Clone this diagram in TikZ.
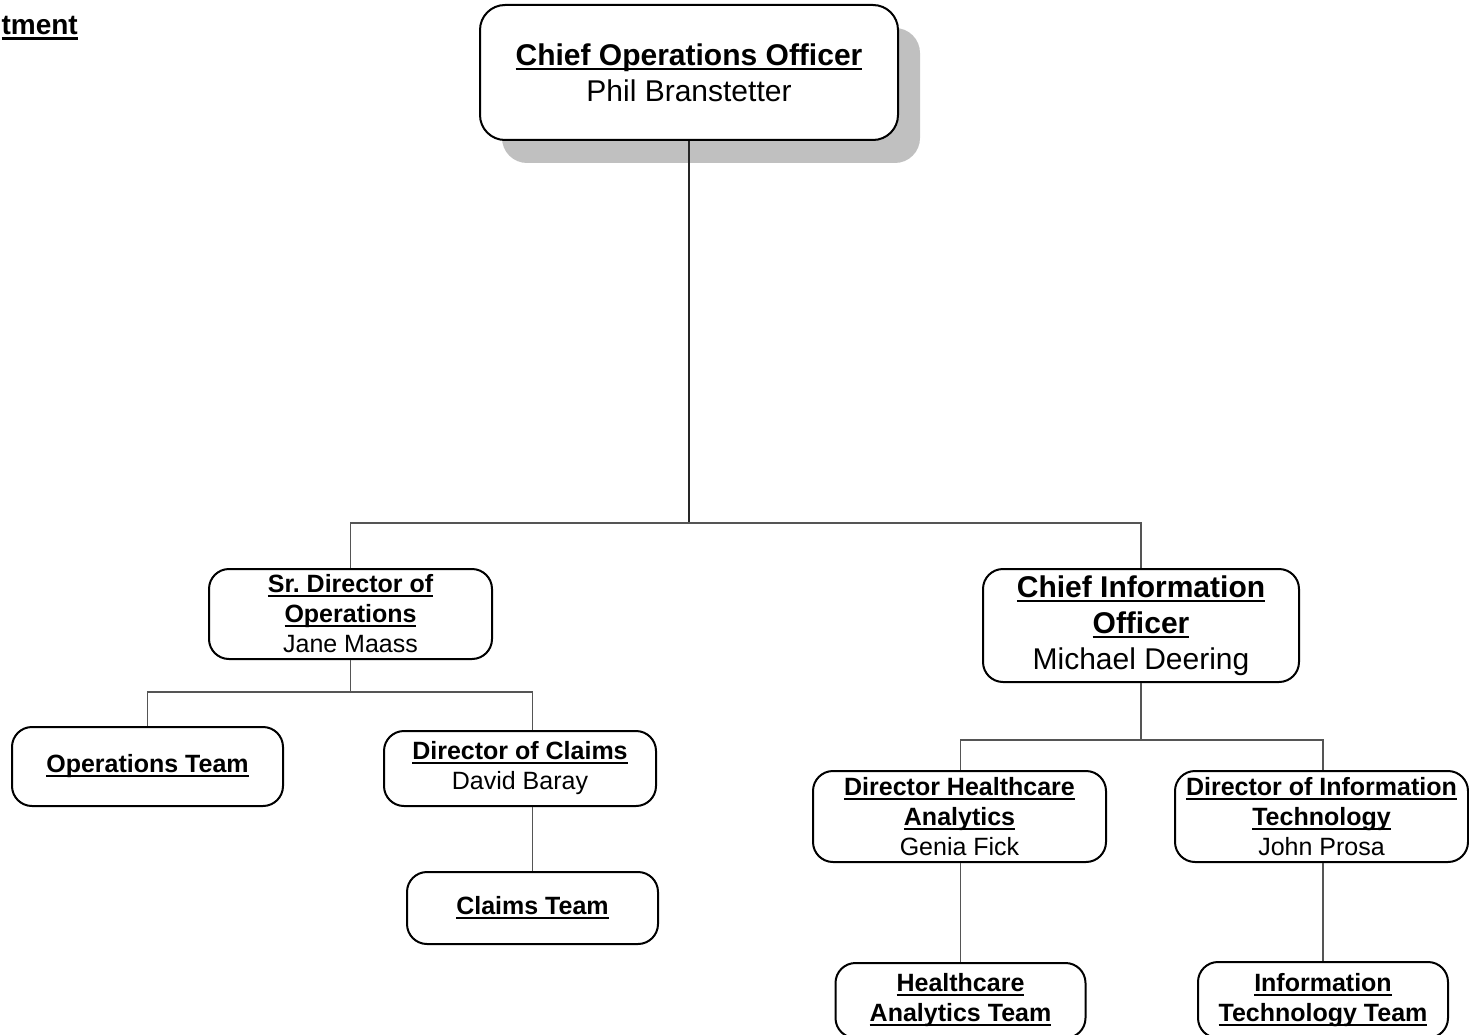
\documentclass[tikz,border=0pt]{standalone}
\usepackage{fontspec}
\setmainfont{Liberation Sans}
\usetikzlibrary{shadows}
\frenchspacing
\newcommand\myul[1]{\leavevmode\setbox0\hbox{#1}\rlap{\rule[-0.17em]{\wd0}{0.085em}}\box0}
\newcommand\bigfont{\fontsize{30}{36}\selectfont}
\newcommand\smallfont{\fontsize{25}{30}\selectfont}
\definecolor{conncol}{RGB}{85,85,85}
\definecolor{shadowcol}{RGB}{192,192,192}
\tikzset{
  orgbox/.style={draw=black, line width=2pt, fill=white, rounded corners=20pt,
    align=center, inner sep=0pt, font=\smallfont},
  bigbox/.style={orgbox, font=\bigfont},
  conn/.style={draw=conncol, line width=1.5pt},
}
\begin{document}
\begin{tikzpicture}[x=1pt,y=-1pt]
\useasboundingbox (0,0) rectangle (1469,1035);
\clip (0,0) rectangle (1469,1035);

% title fragment
\node[anchor=base east, inner sep=0pt, font=\fontsize{28}{32}\selectfont\bfseries] (title) at (78,35) {\myul{tment}};

% nodes
\node[bigbox, rounded corners=25pt, minimum width=418pt, minimum height=135pt,
  drop shadow={shadow xshift=22pt, shadow yshift=-23pt, fill=shadowcol, opacity=1}]
  (coo) at (689,72.5) {\textbf{\myul{Chief Operations Officer}}\\Phil Branstetter};

\node[orgbox, minimum width=283pt, minimum height=90pt] (sr) at (350.5,614)
  {\textbf{\myul{Sr. Director of}}\\\textbf{\myul{Operations}}\\Jane Maass};

\node[bigbox, minimum width=316pt, minimum height=113pt] (cio) at (1141,625.5)
  {\textbf{\myul{Chief Information}}\\\textbf{\myul{Officer}}\\Michael Deering};

\node[orgbox, minimum width=271pt, minimum height=79pt] (ops) at (147.5,766.5)
  {\textbf{\myul{Operations Team}}};

\node[orgbox, minimum width=272pt, minimum height=75pt] (dc) at (520,768.5)
  {\textbf{\myul{Director of Claims}}\\David Baray};

\node[orgbox, minimum width=251pt, minimum height=72pt] (cl) at (532.5,908)
  {\textbf{\myul{Claims Team}}};

\node[orgbox, minimum width=293pt, minimum height=91pt] (dh) at (959.5,816.5)
  {\textbf{\myul{Director Healthcare}}\\\textbf{\myul{Analytics}}\\Genia Fick};

\node[orgbox, minimum width=293pt, minimum height=91pt] (dit) at (1321.5,816.5)
  {\textbf{\myul{Director of Information}}\\\textbf{\myul{Technology}}\\John Prosa};

\node[orgbox, minimum width=250pt, minimum height=75pt] (hat) at (960.5,1000.5)
  {\textbf{\myul{Healthcare}}\\\textbf{\myul{Analytics Team}}};

\node[orgbox, minimum width=250pt, minimum height=76pt] (itt) at (1323,1000)
  {\textbf{\myul{Information}}\\\textbf{\myul{Technology Team}}};

% junctions
\coordinate (j1) at (689,523);
\coordinate (j2) at (350.5,692);
\coordinate (j3) at (1141,740);

% connectors
\draw[conn, draw=black!85] (coo.south) -- (j1);
\draw[conn] (sr.north) -- (sr.north |- j1) -- (cio.north |- j1) -- (cio.north);

\draw[conn] (sr.south) -- (j2);
\draw[conn] (ops.north) -- (ops.north |- j2) -- (cl.north |- j2) -- (cl.north |- dc.north);
\draw[conn] (cl.north |- dc.south) -- (cl.north);

\draw[conn] (cio.south) -- (j3);
\draw[conn] (hat.north |- dh.north) -- (hat.north |- j3) -- (itt.north |- j3) -- (itt.north |- dit.north);
\draw[conn] (hat.north |- dh.south) -- (hat.north);
\draw[conn] (itt.north |- dit.south) -- (itt.north);
\end{tikzpicture}
\end{document}
